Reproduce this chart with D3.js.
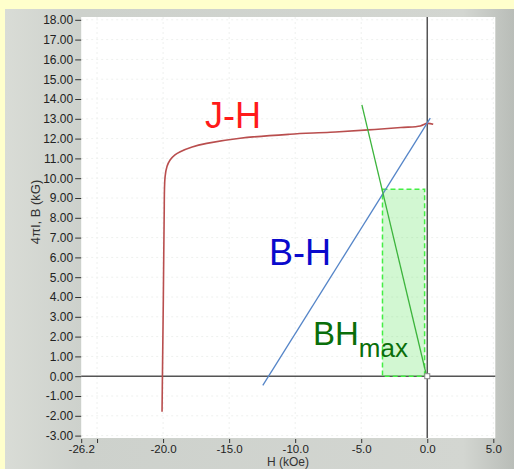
<!DOCTYPE html>
<html>
<head>
<meta charset="utf-8">
<script src="https://cdn.jsdelivr.net/npm/d3@7"></script>
<style>
  body { margin: 0; background: #ffffcc; }
  svg { display: block; font-family: "Liberation Sans", Arial, sans-serif; }
</style>
</head>
<body>
<svg id="chart" width="514" height="469"></svg>
<script>
// J-H demagnetisation curve (H kOe, 4piI kG)
var jhCurve = [
  [-20.08, -1.8], [-20.05, 0], [-19.98, 4], [-19.92, 8], [-19.85, 10.07],
  [-19.7, 10.6], [-19.47, 10.92], [-19.1, 11.18], [-18.7, 11.34], [-17.8, 11.58],
  [-16.7, 11.76], [-14.17, 12.02], [-10.4, 12.22], [-7.35, 12.32], [-4.47, 12.44],
  [-2.0, 12.56], [-0.53, 12.64], [0.0, 12.77], [0.45, 12.72]
];
// B-H line
var bhLine = [[-12.45, -0.46], [0.23, 13.03]];
// load line through origin
var loadLine = [[-4.95, 13.7], [-0.1, 0.15]];
// BHmax rectangle: H range and B height
var bhMaxH = [-3.39, -0.2];
var bhMaxB = [0, 9.44];

var xTicks = [-26.2, -25, -20, -15, -10, -5, 0, 5];
var xTickLabels = ["-26.2", "", "-20.0", "-15.0", "-10.0", "-5.0", "0.0", "5.0"];
var yTicks = [18, 17, 16, 15, 14, 13, 12, 11, 10, 9, 8, 7, 6, 5, 4, 3, 2, 1, 0, -1, -2, -3];
var yTickLabels = ["18.00", "17.00", "16.00", "15.00", "14.00", "13.00", "12.00", "11.00",
  "10.00", "9.00", "8.00", "7.00", "6.00", "5.00", "4.00", "3.00", "2.00", "1.00",
  "0.00", "-1.00", "-2.00", "-3.00"];

var svg = d3.select("#chart");

var x = d3.scaleLinear().domain([-26.2, 5]).range([81.2, 493.3]);
var y = d3.scaleLinear().domain([18, -3]).range([19.8, 435.6]);

// gray panel
var defs = svg.append("defs");
var grad = defs.append("linearGradient").attr("id", "panel").attr("x1", 0).attr("x2", 1);
grad.append("stop").attr("offset", 0).attr("stop-color", "#d9dcd6");
grad.append("stop").attr("offset", 0.15).attr("stop-color", "#cdd1cc");
grad.append("stop").attr("offset", 0.9).attr("stop-color", "#d3d6d1");
grad.append("stop").attr("offset", 1).attr("stop-color", "#b9bdb8");
svg.append("rect").attr("x", 5).attr("y", 9).attr("width", 509).attr("height", 460)
  .attr("fill", "url(#panel)");

// plot area
svg.append("rect")
  .attr("x", x(-26.2)).attr("y", 17)
  .attr("width", x(5) - x(-26.2) + 2).attr("height", 438 - 17)
  .attr("fill", "#ffffff");

var g = svg.append("g");

// faint grid
g.selectAll(".vgrid").data(xTicks.slice(1)).enter().append("line")
  .attr("x1", d => x(d)).attr("x2", d => x(d))
  .attr("y1", 17).attr("y2", 438)
  .attr("stroke", "#eef0ee").attr("stroke-dasharray", "2,3");
g.selectAll(".hgrid").data(yTicks).enter().append("line")
  .attr("x1", x(-26.2)).attr("x2", x(5) + 2)
  .attr("y1", d => y(d)).attr("y2", d => y(d))
  .attr("stroke", "#eef0ee").attr("stroke-dasharray", "2,3");

// axes
var yAxis = d3.axisLeft(y).tickValues(yTicks)
  .tickFormat((d, i) => yTickLabels[i]).tickSize(6).tickPadding(2);
var ya = svg.append("g").attr("transform", "translate(" + x(-26.2) + ",0)").call(yAxis);
ya.select(".domain").remove();
ya.selectAll("line").attr("stroke", "#333");
ya.selectAll("text").attr("fill", "#222").style("font-size", "12px");

var xAxis = d3.axisBottom(x).tickValues(xTicks)
  .tickFormat((d, i) => xTickLabels[i]).tickSize(4).tickPadding(2);
var xa = svg.append("g").attr("transform", "translate(0,439)").call(xAxis);
xa.select(".domain").remove();
xa.selectAll("line").attr("stroke", "#333");
xa.selectAll("text").attr("fill", "#222").style("font-size", "11.5px");

svg.append("text")
  .attr("x", 288).attr("y", 466)
  .attr("text-anchor", "middle")
  .attr("fill", "#333").style("font-size", "12px")
  .text("H (kOe)");

svg.append("text")
  .attr("transform", "translate(40,212) rotate(-90)")
  .attr("text-anchor", "middle")
  .attr("fill", "#333").style("font-size", "13px")
  .text("4πI, B (kG)");

// zero lines
g.append("line")
  .attr("x1", x(-26.2)).attr("x2", x(5) + 2)
  .attr("y1", y(0)).attr("y2", y(0))
  .attr("stroke", "#555").attr("stroke-width", 1.5);
g.append("line")
  .attr("x1", x(0)).attr("x2", x(0))
  .attr("y1", 17).attr("y2", 438)
  .attr("stroke", "#555").attr("stroke-width", 1.5);

// BHmax rectangle
g.append("rect")
  .attr("x", x(bhMaxH[0])).attr("y", y(bhMaxB[1]))
  .attr("width", x(bhMaxH[1]) - x(bhMaxH[0]))
  .attr("height", y(bhMaxB[0]) - y(bhMaxB[1]))
  .attr("fill", "#4de04d").attr("fill-opacity", 0.25)
  .attr("stroke", "#44ee44").attr("stroke-width", 1.5)
  .attr("stroke-dasharray", "5,3");

var line = d3.line().x(d => x(d[0])).y(d => y(d[1]));

g.append("path")
  .attr("fill", "none")
  .attr("stroke", "#b94e4e")
  .attr("stroke-width", 1.6)
  .attr("d", line.curve(d3.curveCatmullRom.alpha(0.5))(jhCurve));

line.curve(d3.curveLinear);
g.append("path")
  .attr("fill", "none")
  .attr("stroke", "#5585c8")
  .attr("stroke-width", 1.3)
  .attr("d", line(bhLine));

g.append("path")
  .attr("fill", "none")
  .attr("stroke", "#3cb43c")
  .attr("stroke-width", 1.3)
  .attr("d", line(loadLine));

// origin marker
g.append("rect")
  .attr("x", x(0) - 2.5).attr("y", y(0) - 2.5)
  .attr("width", 5).attr("height", 5)
  .attr("fill", "#fff").attr("stroke", "#888").attr("stroke-width", 1);

// labels
svg.append("text").attr("x", 205).attr("y", 128)
  .attr("fill", "#ff1a1a").style("font-size", "36px").text("J-H");
svg.append("text").attr("x", 269).attr("y", 265)
  .attr("fill", "#0a0acc").style("font-size", "36px").text("B-H");
var bh = svg.append("text").attr("x", 313).attr("y", 345)
  .attr("fill", "#0a6e0a").style("font-size", "33px");
bh.append("tspan").text("BH");
bh.append("tspan").attr("dy", 12).style("font-size", "26px").text("max");
</script>
</body>
</html>
